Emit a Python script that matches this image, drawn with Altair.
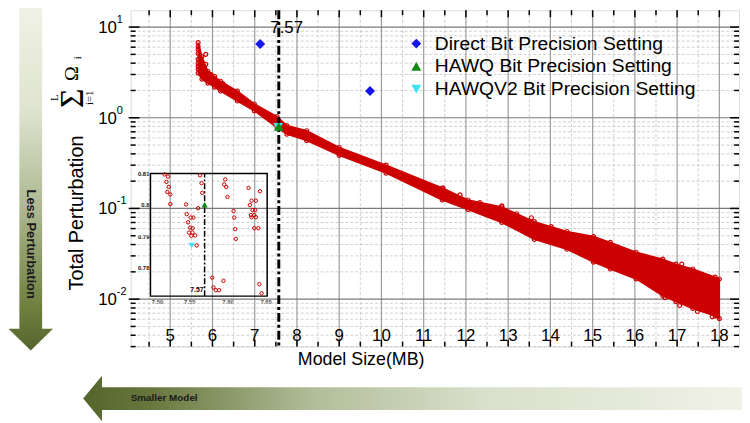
import altair as alt
import pandas as pd

# ---------------- data ----------------
# envelope of the dense red scatter band (model size MB, upper / lower perturbation)
env_x = [5.66, 5.75, 5.89, 6.05, 6.19, 6.59, 6.99, 7.53, 7.76, 8.23, 9.00, 10.11, 11.44,
         12.05, 12.85, 13.62, 14.39, 15.02, 15.42, 16.03, 16.66, 16.97, 17.37, 17.90, 18.00]
env_hi = [6.74, 4.74, 3.26, 2.87, 2.53, 1.97, 1.42, 1.03, 0.82, 0.72, 0.47, 0.30, 0.168,
          0.124, 0.104, 0.0716, 0.0557, 0.049, 0.0423, 0.0329, 0.0276, 0.0243, 0.0215, 0.0175, 0.0167]
env_lo = [3.10, 2.66, 2.41, 2.18, 1.97, 1.53, 1.19, 0.78, 0.66, 0.56, 0.385, 0.245, 0.124,
          0.097, 0.070, 0.0456, 0.0355, 0.0256, 0.0215, 0.0167, 0.0109, 0.0094, 0.0079, 0.0065, 0.0061]
# individual circles on the band edges / outliers
extra_x = [5.66, 5.66, 5.66, 5.66, 5.66, 5.66, 5.66, 5.84, 5.84, 5.96, 6.24,
           16.71, 17.06, 17.48, 17.83, 17.95, 17.90, 17.11,
           11.46, 11.86, 12.33, 12.85, 13.20, 13.55, 14.02]
extra_y = [6.09, 5.66, 5.11, 4.40, 3.98, 3.70, 3.43, 5.0, 3.88, 3.02, 2.4,
           0.0104, 0.0085, 0.0073, 0.0064, 0.0066, 0.0078, 0.0244,
           0.168, 0.141, 0.116, 0.107, 0.0875, 0.079, 0.063]

settings = ["Direct Bit Precision Setting", "HAWQ Bit Precision Setting", "HAWQV2 Bit Precision Setting"]
direct_x = [7.13, 9.73]
direct_y = [6.5, 1.97]
hawq_x = [7.57]
hawq_y = [0.800]
hawqv2_x = [7.553]
hawqv2_y = [0.787]
cut_x = [7.57]

x_major = [5, 6, 7, 8, 9, 10, 11, 12, 13, 14, 15, 16, 17, 18]
x_minor = [4.5, 5.5, 6.5, 7.5, 8.5, 9.5, 10.5, 11.5, 12.5, 13.5, 14.5, 15.5, 16.5, 17.5]
y_major = [0.01, 0.1, 1, 10]
y_exp = ["-2", "-1", "0", "1"]
y_minor = [0.003, 0.004, 0.005, 0.006, 0.007, 0.008, 0.009,
           0.02, 0.03, 0.04, 0.05, 0.06, 0.07, 0.08, 0.09,
           0.2, 0.3, 0.4, 0.5, 0.6, 0.7, 0.8, 0.9,
           2, 3, 4, 5, 6, 7, 8, 9]

# inset (zoom around 7.57 MB)
ins_x = [7.5175, 7.522, 7.520, 7.523, 7.521, 7.525, 7.525,
         7.5457, 7.5615, 7.564, 7.566, 7.567,
         7.5465, 7.5483, 7.5517, 7.5553, 7.551, 7.5543, 7.5496, 7.554, 7.5575, 7.5526, 7.5596,
         7.580, 7.5816, 7.5846, 7.589, 7.5947,
         7.597, 7.5957, 7.5983, 7.600, 7.6079, 7.6088, 7.6101, 7.6109,
         7.6276, 7.6316, 7.6372, 7.6293, 7.6329, 7.6364, 7.6307, 7.6351, 7.6316, 7.6372,
         7.6351, 7.6404, 7.6425, 7.6417, 7.6447]
ins_y = [0.8097, 0.809, 0.8073, 0.8057, 0.8041, 0.8033, 0.8002,
         0.8001, 0.7989, 0.8094, 0.8069, 0.8038,
         0.7970, 0.7944, 0.7959, 0.7959, 0.7927, 0.7925, 0.7911, 0.7911, 0.7902, 0.7901, 0.7870,
         0.7767, 0.7736, 0.7727, 0.7727, 0.7757,
         0.8081, 0.8065, 0.8057, 0.8025, 0.7980, 0.7959, 0.7922, 0.7891,
         0.8054, 0.8013, 0.8013, 0.7999, 0.7983, 0.7983, 0.7967, 0.7967, 0.7960, 0.7960,
         0.7925, 0.7925, 0.8043, 0.7746, 0.7717]
ins_x_dom = [7.499, 7.652]
ins_y_dom = [0.7708, 0.81]
ins_x_ticks = [7.50, 7.55, 7.60, 7.65]
ins_y_ticks = [0.78, 0.79, 0.80, 0.81]

# ---------------- styles ----------------
SANS = "Liberation Sans"
SERIF = "Liberation Serif"
RED = "#cc0000"
colors = ["#1414f0", "#108a10", "#3de3f0"]
shapes = ["diamond", "triangle-up", "triangle-down"]
W, H = 615, 340

XS = alt.Scale(domain=[4.063, 18.466], nice=False, zero=False)
YS = alt.Scale(type="log", domain=[0.003, 15.33], nice=False)


def X(f):
    return alt.X(f, scale=XS, axis=None)


def Y(f):
    return alt.Y(f, scale=YS, axis=None)


dummy = pd.DataFrame({"k": [0]})


def deco_text(text, x, y, size, angle=0, weight="normal", font=SANS, align="center", color="black"):
    mk = dict(text=text, fontSize=size, font=font, align=align, baseline="middle",
              color=color, fontWeight=weight)
    if angle:
        mk["angle"] = angle
    return alt.Chart(dummy).mark_text(**mk).encode(x=alt.value(x), y=alt.value(y))


# gradient arrows (custom symbol paths, size=4 -> 1 unit = 1 px)
V_PATH = "M -11.5 -176 L 11.5 -176 L 11.5 152 L 22.5 152 L 0 174 L -22.5 152 L -11.5 152 Z"
V_GRAD = {"gradient": "linear", "x1": 0, "y1": 0, "x2": 0, "y2": 1,
          "stops": [{"offset": 0, "color": "#f0f2e6"}, {"offset": 0.3, "color": "#dfe4d0"},
                    {"offset": 0.6, "color": "#aab68e"}, {"offset": 0.87, "color": "#6f8040"},
                    {"offset": 1, "color": "#55662d"}]}
H_PATH = "M -333 0 L -314 -23 L -314 -11.5 L 336 -11.5 L 336 11.5 L -314 11.5 L -314 23 Z"
H_GRAD = {"gradient": "linear", "x1": 0, "y1": 0, "x2": 1, "y2": 0,
          "stops": [{"offset": 0, "color": "#55662d"}, {"offset": 0.1, "color": "#66773d"},
                    {"offset": 0.35, "color": "#b2be9a"}, {"offset": 0.6, "color": "#d8dfca"},
                    {"offset": 1, "color": "#f0f2e8"}]}

v_arrow = alt.Chart(dummy).mark_point(shape=V_PATH, size=4, filled=True, fill=V_GRAD,
                                      opacity=1, strokeWidth=0).encode(x=alt.value(-101), y=alt.value(170))
h_arrow = alt.Chart(dummy).mark_point(shape=H_PATH, size=4, filled=True, fill=H_GRAD,
                                      opacity=1, strokeWidth=0).encode(x=alt.value(285), y=alt.value(392.5))

# grid
gx_min = alt.Chart(pd.DataFrame({"v": x_minor})).mark_rule(color="#c4c4c4", strokeWidth=0.8, strokeDash=[3, 2]).encode(x=X("v:Q"))
gx_maj = alt.Chart(pd.DataFrame({"v": x_major})).mark_rule(color="#9c9c9c", strokeWidth=1.2).encode(x=X("v:Q"))
gy_min = alt.Chart(pd.DataFrame({"v": y_minor})).mark_rule(color="#c4c4c4", strokeWidth=0.8, strokeDash=[3, 2]).encode(y=Y("v:Q"))
gy_maj = alt.Chart(pd.DataFrame({"v": y_major})).mark_rule(color="#7a7a7a", strokeWidth=1.2).encode(y=Y("v:Q"))

# scatter band
df_env = pd.DataFrame({"x": env_x, "hi": env_hi, "lo": env_lo})
band = alt.Chart(df_env).mark_area(color=RED, stroke=RED, strokeWidth=1.5, opacity=1).encode(
    x=X("x:Q"), y=Y("hi:Q"), y2="lo:Q")
df_edge = pd.DataFrame({"x": env_x + env_x + extra_x, "y": env_hi + env_lo + extra_y})
circles = alt.Chart(df_edge).mark_point(shape="circle", filled=False, color=RED, size=16,
                                        strokeWidth=1.2, opacity=1).encode(x=X("x:Q"), y=Y("y:Q"))

cut = alt.Chart(pd.DataFrame({"x": cut_x})).mark_rule(color="black", strokeWidth=3,
                                                       strokeDash=[9, 3, 3, 3]).encode(x=X("x:Q"))
cut_lab = alt.Chart(pd.DataFrame({"x": cut_x})).mark_text(fontSize=17, font=SANS, dx=8).encode(
    x=X("x:Q"), y=alt.value(18), text=alt.Text("x:Q", format=".2f"))

LEG = alt.Legend(orient="none", legendX=279, legendY=24, title=None, labelFontSize=19.5,
                 labelFont=SANS, symbolSize=100, labelOffset=9, rowPadding=2, padding=0,
                 labelLimit=400, symbolStrokeWidth=0)
df_mk = pd.DataFrame({"x": direct_x + hawqv2_x + hawq_x, "y": direct_y + hawqv2_y + hawq_y,
                      "s": [settings[0]] * len(direct_x) + [settings[2]] + [settings[1]]})
markers = alt.Chart(df_mk).mark_point(filled=True, size=100, opacity=1).encode(
    x=X("x:Q"), y=Y("y:Q"),
    color=alt.Color("s:N", scale=alt.Scale(domain=settings, range=colors), legend=LEG),
    shape=alt.Shape("s:N", scale=alt.Scale(domain=settings, range=shapes), legend=LEG))

# inward ticks
dfxM = pd.DataFrame({"v": x_major})
dfxm = pd.DataFrame({"v": x_minor})
dfyM = pd.DataFrame({"v": y_major})
dfym = pd.DataFrame({"v": y_minor})
tk = dict(color="black", strokeWidth=1.5)
ticks = [
    alt.Chart(dfxM).mark_rule(**tk).encode(x=X("v:Q"), y=alt.value(H), y2=alt.value(H - 7)),
    alt.Chart(dfxm).mark_rule(**tk).encode(x=X("v:Q"), y=alt.value(H), y2=alt.value(H - 5)),
    alt.Chart(dfxM).mark_rule(**tk).encode(x=X("v:Q"), y=alt.value(0), y2=alt.value(7)),
    alt.Chart(dfxm).mark_rule(**tk).encode(x=X("v:Q"), y=alt.value(0), y2=alt.value(5)),
    alt.Chart(dfyM).mark_rule(**tk).encode(y=Y("v:Q"), x=alt.value(-2), x2=alt.value(9)),
    alt.Chart(dfym).mark_rule(**tk).encode(y=Y("v:Q"), x=alt.value(0), x2=alt.value(5)),
    alt.Chart(dfyM).mark_rule(**tk).encode(y=Y("v:Q"), x=alt.value(W), x2=alt.value(W - 9)),
    alt.Chart(dfym).mark_rule(**tk).encode(y=Y("v:Q"), x=alt.value(W), x2=alt.value(W - 5)),
]

# tick labels
x_labels = alt.Chart(dfxM).mark_text(fontSize=17, font=SANS, baseline="alphabetic").encode(
    x=X("v:Q"), y=alt.value(334), text=alt.Text("v:Q", format="d"))
df_yl = pd.DataFrame({"v": y_major, "e": y_exp})
y_base = alt.Chart(df_yl).mark_text(text="10", fontSize=17, font=SANS, align="right",
                                     baseline="middle", dy=1).encode(y=Y("v:Q"), x=alt.value(-14))
y_sup = alt.Chart(df_yl).mark_text(fontSize=11, font=SANS, align="left", baseline="middle",
                                    dy=-7).encode(y=Y("v:Q"), x=alt.value(-14), text="e:N")

texts = [
    deco_text("Total Perturbation", -54.5, 205, 20, angle=270),
    deco_text("\u03a3", -58, 89, 34, angle=270, font=SERIF),
    deco_text("L", -76, 88.5, 11, angle=270, font=SERIF),
    deco_text("i=1", -41, 88.5, 11, angle=270, font=SERIF),
    deco_text("\u03a9", -59, 64, 20, angle=270, font=SERIF),
    deco_text("i", -53, 48, 11, angle=270, font=SERIF),
    deco_text("Model Size(MB)", 233, 354, 18),
    deco_text("Less Perturbation", -100.5, 236.5, 13, angle=90, weight="bold", color="#1a1a1a"),
    deco_text("Smaller Model", 0, 392, 10, weight="bold", align="left", color="#1a1a1a"),
]

main = alt.layer(v_arrow, h_arrow, gx_min, gy_min, gx_maj, gy_maj, band, circles, cut,
                 markers, *ticks, x_labels, y_base, y_sup, cut_lab, *texts)

# ---------------- inset ----------------
IXS = alt.Scale(domain=ins_x_dom, range=[20, 138], nice=False, zero=False)
IYS = alt.Scale(domain=ins_y_dom, range=[289, 165], nice=False, zero=False)
IXA = alt.Axis(orient="bottom", offset=-51, values=ins_x_ticks, format=".2f", labelFont=SANS,
               labelFontSize=6, labelFontWeight="bold", labelColor="#555555", ticks=False,
               domain=False, grid=False, labelPadding=2, title=None)
IYA = alt.Axis(orient="left", offset=-20, values=ins_y_ticks, format=".2~f", labelFont=SANS,
               labelFontSize=6, labelFontWeight="bold", labelColor="#111111", ticks=False,
               domain=False, grid=False, labelPadding=1.5, title=None)


def IX(f):
    return alt.X(f, scale=IXS, axis=IXA)


def IY(f):
    return alt.Y(f, scale=IYS, axis=IYA)


df_frame = pd.DataFrame({"x0": [ins_x_dom[0]], "x1": [ins_x_dom[1]],
                         "y0": [ins_y_dom[0]], "y1": [ins_y_dom[1]]})
i_frame = alt.Chart(df_frame).mark_rect(fillOpacity=0, stroke="black", strokeWidth=1.5).encode(
    x=IX("x0:Q"), x2="x1:Q", y=IY("y0:Q"), y2="y1:Q")
df_icut = pd.DataFrame({"x": cut_x, "y0": [ins_y_dom[0]], "y1": [ins_y_dom[1]]})
i_cut = alt.Chart(df_icut).mark_rule(color="black", strokeWidth=1.5, strokeDash=[6, 2, 2, 2]).encode(
    x=IX("x:Q"), y=IY("y0:Q"), y2="y1:Q")
i_pts = alt.Chart(pd.DataFrame({"x": ins_x, "y": ins_y})).mark_point(
    shape="circle", filled=False, color=RED, size=12, strokeWidth=1, opacity=1).encode(
    x=IX("x:Q"), y=IY("y:Q"))
i_hawq = alt.Chart(pd.DataFrame({"x": hawq_x, "y": hawq_y})).mark_point(
    shape="triangle-up", filled=True, color=colors[1], size=40, opacity=1).encode(x=IX("x:Q"), y=IY("y:Q"))
i_hawq2 = alt.Chart(pd.DataFrame({"x": hawqv2_x, "y": hawqv2_y})).mark_point(
    shape="triangle-down", filled=True, color=colors[2], size=40, opacity=1).encode(x=IX("x:Q"), y=IY("y:Q"))
i_lab = alt.Chart(df_icut).mark_text(fontSize=7, font=SANS, fontWeight="bold", align="right",
                                      baseline="middle", dx=-1, dy=-6.5).encode(
    x=IX("x:Q"), y=IY("y0:Q"), text=alt.Text("x:Q", format=".2f"))

inset = alt.layer(i_frame, i_cut, i_pts, i_hawq2, i_hawq, i_lab)

chart = alt.layer(main, inset).resolve_scale(x="independent", y="independent").properties(
    width=W, height=H,
    padding={"left": 124, "top": 0, "right": 3, "bottom": 75},
    autosize=alt.AutoSizeParams(type="none"),
).configure_view(stroke="black", strokeWidth=2).configure(font=SANS)

chart.save("out.html", embed_options={"renderer": "svg", "actions": False})
